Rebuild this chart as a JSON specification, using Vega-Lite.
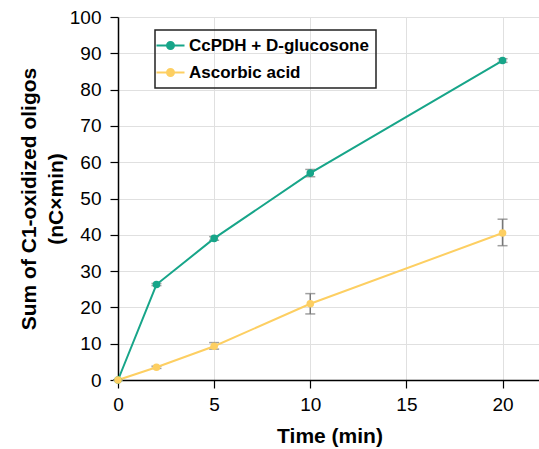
{
  "$schema": "https://vega.github.io/schema/vega-lite/v6.json",
  "width": 423,
  "height": 363,
  "autosize": "none",
  "padding": {"left": 118, "top": 17, "right": 0, "bottom": 69},
  "config": {
    "view": {"stroke": null},
    "font": "Liberation Sans",
    "axis": {
      "domainColor": "#000",
      "domainWidth": 1.5,
      "tickColor": "#000",
      "tickWidth": 1.2,
      "tickSize": 8,
      "gridColor": "#e0e0e0",
      "gridWidth": 1,
      "labelFont": "Liberation Sans",
      "labelFontSize": 19,
      "labelColor": "#000",
      "labelOverlap": false,
      "labelFlush": false,
      "titleFont": "Liberation Sans",
      "titleFontSize": 21,
      "titleFontWeight": "bold",
      "titleColor": "#000"
    }
  },
  "data": {
    "values": [
      {"series": "CcPDH + D-glucosone", "time": 0, "value": 0, "lo": 0, "hi": 0},
      {"series": "CcPDH + D-glucosone", "time": 2, "value": 26.3, "lo": 26.0, "hi": 26.6},
      {"series": "CcPDH + D-glucosone", "time": 5, "value": 39.0, "lo": 38.5, "hi": 39.5},
      {"series": "CcPDH + D-glucosone", "time": 10, "value": 57.0, "lo": 56.0, "hi": 58.0},
      {"series": "CcPDH + D-glucosone", "time": 20, "value": 88.0, "lo": 87.5, "hi": 88.5},
      {"series": "Ascorbic acid", "time": 0, "value": 0, "lo": 0, "hi": 0},
      {"series": "Ascorbic acid", "time": 2, "value": 3.5, "lo": 3.2, "hi": 3.8},
      {"series": "Ascorbic acid", "time": 5, "value": 9.3, "lo": 8.5, "hi": 10.3},
      {"series": "Ascorbic acid", "time": 10, "value": 21.0, "lo": 18.2, "hi": 23.8},
      {"series": "Ascorbic acid", "time": 20, "value": 40.5, "lo": 37.0, "hi": 44.3}
    ]
  },
  "encoding": {
    "x": {
      "field": "time", "type": "quantitative",
      "scale": {"domain": [0, 22], "nice": false},
      "axis": {"values": [0, 5, 10, 15, 20], "title": "Time (min)", "labelPadding": 7, "titlePadding": 11, "grid": true, "labelFlush": false}
    }
  },
  "layer": [
    {
      "mark": {"type": "errorbar", "color": "#777", "thickness": 1.5, "ticks": {"size": 10}},
      "encoding": {
        "y": {
          "field": "lo", "type": "quantitative",
          "scale": {"domain": [0, 100], "nice": false},
          "axis": {"values": [0,10,20,30,40,50,60,70,80,90,100], "title": ["Sum of C1-oxidized oligos", "(nC×min)"], "titleLineHeight": 27, "labelPadding": 9, "titlePadding": 3, "grid": true, "labelOverlap": false, "labelFlush": false}
        },
        "y2": {"field": "hi"}
      }
    },
    {
      "mark": {"type": "line", "strokeWidth": 2},
      "encoding": {
        "y": {
          "field": "value", "type": "quantitative",
          "axis": {"values": [0,10,20,30,40,50,60,70,80,90,100], "title": ["Sum of C1-oxidized oligos", "(nC×min)"], "titleLineHeight": 27, "labelPadding": 9, "titlePadding": 3, "grid": true, "labelOverlap": false, "labelFlush": false}
        },
        "color": {
          "field": "series", "type": "nominal",
          "scale": {"domain": ["CcPDH + D-glucosone", "Ascorbic acid"], "range": ["#17a589", "#fdcf62"]},
          "legend": {
            "title": null,
            "orient": "none",
            "legendX": 37,
            "legendY": 13,
            "strokeColor": "#222",
            "padding": 7,
            "labelFont": "Liberation Sans",
            "labelFontSize": 17,
            "labelFontWeight": "bold",
            "labelColor": "#000",
            "labelLimit": 400,
            "symbolType": "M-2,0L2,0M-0.5,0A0.5,0.5,0,1,1,0.5,0A0.5,0.5,0,1,1,-0.5,0Z",
            "symbolSize": 196,
            "symbolStrokeWidth": 2,
            "rowPadding": 9,
            "labelOffset": 10,
            "encode": {
              "legend": {"update": {"strokeWidth": {"value": 1.5}}},
              "symbols": {"update": {"fill": {"scale": "color", "field": "value"}, "stroke": {"scale": "color", "field": "value"}}}
            }
          }
        }
      }
    },
    {
      "mark": {"type": "point", "filled": true, "size": 58, "opacity": 1},
      "encoding": {
        "y": {
          "field": "value", "type": "quantitative",
          "axis": {"values": [0,10,20,30,40,50,60,70,80,90,100], "title": ["Sum of C1-oxidized oligos", "(nC×min)"], "titleLineHeight": 27, "labelPadding": 9, "titlePadding": 3, "grid": true, "labelOverlap": false, "labelFlush": false}
        },
        "color": {"field": "series", "type": "nominal", "legend": null}
      }
    }
  ]
}
